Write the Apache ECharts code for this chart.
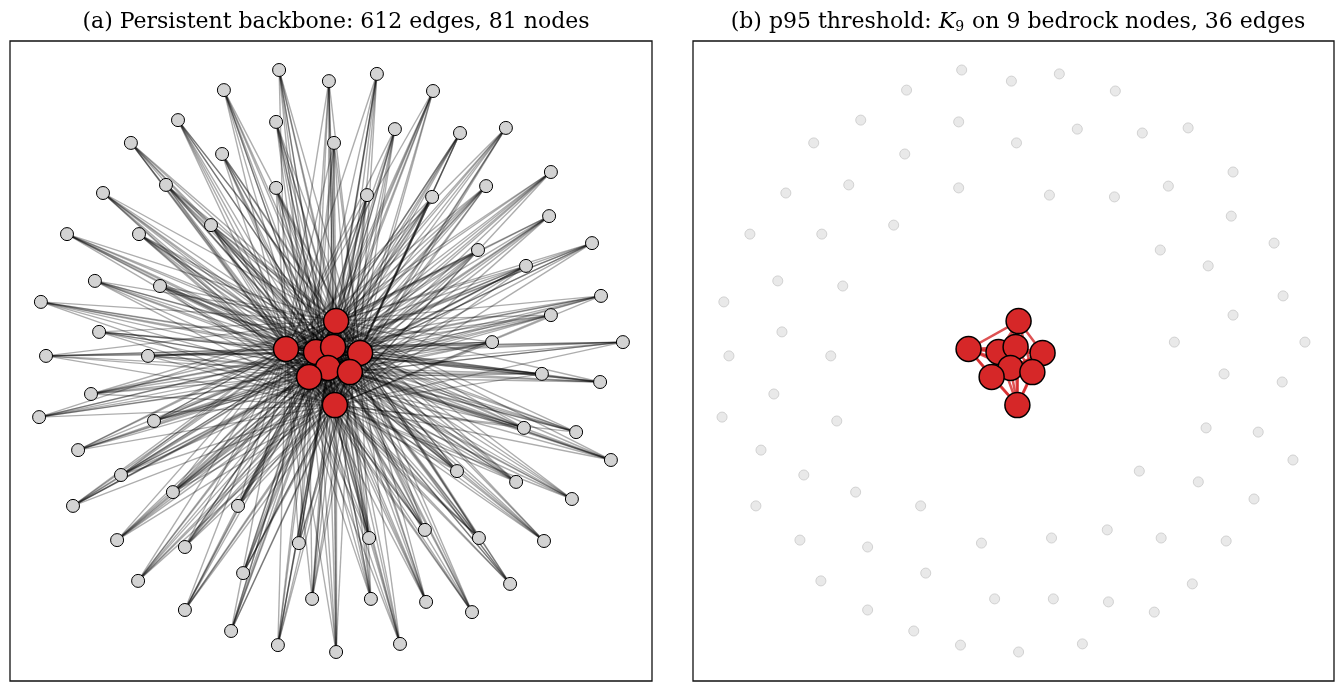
<!DOCTYPE html>
<html>
<head>
<meta charset="utf-8">
<script src="https://cdn.jsdelivr.net/npm/echarts@6/dist/echarts.min.js"></script>
<style>
  html, body { margin: 0; padding: 0; background: #fff; }
  #chart { width: 1335px; height: 682px; }
</style>
</head>
<body>
<div id="chart"></div>
<script>
// Layout coordinates (spring layout, arbitrary units, y up)
// The 9 bedrock hubs at the core
const hubX = [1.7, -15, -5, 0.7, 9.7, -1, -7.3, 6.3, 1.3];
const hubY = [13.3, 4, 3, 4.7, 2.7, -2.3, -5.3, -3.7, -14.7];

// The 72 peripheral nodes
const leafX = [-17.3, -0.7, -35.7, -51, -18.3, 1, -66.7, -36.3, -76, -55, -18.3, -88, -64, -40, -78.7, -57, -96.7, -77.3, -95, -61,
  15.3, 34, 21.3, 43, 58.3, 73.3, 12, 33.7, 51.7, 72.7, 87, 49, 65, 90, 73.3, 53.7, 97.3,
  -80, -97.3, -59, -84.3, -70, -52.7, -86, -31, -71.3, -48.7, -10.7, -29.3, -64.3, -6.3, -48.7, -33.3, -17.7,
  70.3, 89.7, 64.3, 81.7, 93.3, 42, 61.7, 80.3, 12.7, 31.3, 49.3, 71, 59.7, 13.3, 31.7, 47, 23, 1.7];
const leafY = [97, 93.3, 90.3, 80.3, 79.7, 72.7, 72.7, 69, 56, 58.7, 57.7, 42.3, 42.3, 45.3, 26.7, 25, 19.7, 9.7, 1.7, 1.7,
  95.7, 90, 77.3, 76, 77.7, 63, 55.3, 54.7, 58.3, 48.3, 39.3, 37, 31.7, 21.7, 15.3, 6.3, 6.3,
  -11, -18.7, -20, -29.7, -38, -43.7, -48.3, -48.3, -59.7, -62, -60.7, -70.7, -73.3, -79.3, -83, -90, -94.7,
  -4.3, -7, -22.3, -23.7, -33, -36.7, -40.3, -46, -59, -56.3, -59, -60, -74.3, -79.3, -80.3, -83.7, -94.3, -97];

// Each peripheral node links to every hub except this one
const leafMissingHub = [3, 7, 0, 5, 1, 8, 2, 6, 4, 6, 2, 8, 0, 4, 7, 1, 5, 3, 5, 0,
  2, 8, 6, 1, 3, 7, 4, 0, 8, 2, 5, 6, 1, 7, 3, 4, 0,
  6, 1, 8, 3, 5, 2, 7, 4, 0, 6, 8, 1, 3, 2, 5, 7, 4,
  0, 8, 2, 6, 3, 1, 5, 7, 4, 0, 2, 8, 6, 3, 1, 5, 7, 4];

const titleA = '(a) Persistent backbone: 612 edges, 81 nodes';
const titleB = ['(b) p95 threshold: ', 'K', '9', ' on 9 bedrock nodes, 36 edges'];

const RED = '#d62728';
const nLeaf = leafX.length;
const nHub = hubX.length;

function hubPairs() {
  const out = [];
  for (let i = 0; i < nHub; i++)
    for (let j = i + 1; j < nHub; j++)
      out.push({ source: nLeaf + i, target: nLeaf + j });
  return out;
}

function nodes(leafStyle, leafSize) {
  const arr = [];
  for (let i = 0; i < nLeaf; i++)
    arr.push({ name: 'n' + i, value: [leafX[i], leafY[i]], symbolSize: leafSize, itemStyle: leafStyle });
  for (let i = 0; i < nHub; i++)
    arr.push({ name: 'h' + i, value: [hubX[i], hubY[i]], symbolSize: 25,
      itemStyle: { color: RED, borderColor: '#000', borderWidth: 1.5 } });
  return arr;
}

// Panel (a): full backbone
const linksA = [];
for (let i = 0; i < nLeaf; i++)
  for (let h = 0; h < nHub; h++)
    if (h !== leafMissingHub[i]) linksA.push({ source: i, target: nLeaf + h });
hubPairs().forEach(l => linksA.push(l));

// Panel (b): only the hub clique survives
const linksB = hubPairs();

const serif = 'DejaVu Serif';
const FS = 22;
const chart = echarts.init(document.getElementById('chart'), null, { renderer: 'canvas' });

const axisX = (gi) => ({ type: 'value', gridIndex: gi, min: -107, max: 107, show: false });
const axisY = (gi) => ({ type: 'value', gridIndex: gi, min: -106.67, max: 106.67, show: false });

chart.setOption({
  animation: false,
  backgroundColor: '#fff',
  title: [
    { text: titleA, left: 331, top: 6, textAlign: 'center',
      textStyle: { fontFamily: serif, fontSize: FS, fontWeight: 'normal', color: '#000' } },
    { text: '{t|' + titleB[0] + '}{k|' + titleB[1] + '}{s|' + titleB[2] + '}{t|' + titleB[3] + '}',
      left: 1013, top: 6, textAlign: 'center',
      textStyle: { fontFamily: serif, fontSize: FS, fontWeight: 'normal', color: '#000',
        rich: {
          t: { fontFamily: serif, fontSize: FS, color: '#000' },
          k: { fontFamily: serif, fontSize: FS, fontStyle: 'italic', color: '#000' },
          s: { fontFamily: serif, fontSize: 14, color: '#000', padding: [9, 1, 0, 0] }
        } } }
  ],
  grid: [
    { left: 10, top: 41, width: 642, height: 640, show: true, borderColor: '#111', borderWidth: 1.3, backgroundColor: 'transparent' },
    { left: 693, top: 41, width: 641, height: 640, show: true, borderColor: '#111', borderWidth: 1.3, backgroundColor: 'transparent' }
  ],
  xAxis: [axisX(0), axisX(1)],
  yAxis: [axisY(0), axisY(1)],
  series: [
    {
      type: 'graph', coordinateSystem: 'cartesian2d', xAxisIndex: 0, yAxisIndex: 0,
      silent: true, symbol: 'circle',
      data: nodes({ color: '#d3d3d3', borderColor: '#000', borderWidth: 1 }, 13),
      links: linksA,
      lineStyle: { color: '#000', opacity: 0.32, width: 1.4, curveness: 0 },
      label: { show: false },
      emphasis: { disabled: true }
    },
    {
      type: 'graph', coordinateSystem: 'cartesian2d', xAxisIndex: 1, yAxisIndex: 1,
      silent: true, symbol: 'circle',
      data: nodes({ color: '#e9e9e9', borderColor: '#d2d2d2', borderWidth: 1 }, 10),
      links: linksB,
      lineStyle: { color: RED, opacity: 0.8, width: 2.5, curveness: 0 },
      label: { show: false },
      emphasis: { disabled: true }
    }
  ]
});
</script>
</body>
</html>
